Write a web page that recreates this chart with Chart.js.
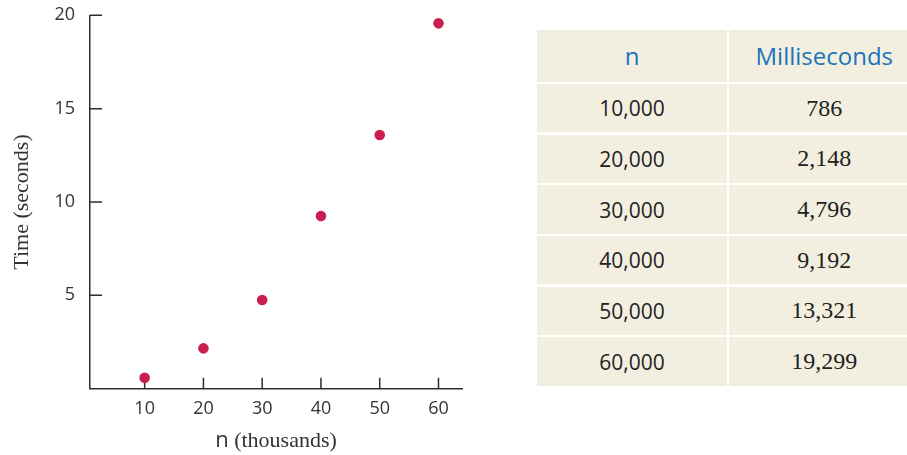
<!DOCTYPE html>
<html>
<head>
<meta charset="utf-8">
<script src="https://cdn.jsdelivr.net/npm/chart.js@4/dist/chart.umd.min.js"></script>
<style>
  html, body { margin: 0; padding: 0; background: #fff; }
  body { width: 907px; height: 455px; position: relative; overflow: hidden; }
  #plot { position: absolute; left: 0; top: 0; width: 470px; height: 455px; }
  #table {
    position: absolute; left: 537px; top: 30px; width: 382px;
    display: grid; grid-template-columns: 190px 190px;
    grid-template-rows: 51.7px repeat(6, 48.4px);
    gap: 2.3px;
  }
  #table div {
    background: #f2efe0;
    display: flex; align-items: center; justify-content: center;
    color: #222;
  }
  #table .head { font-family: "Open Sans", sans-serif; font-size: 24px; color: #1b74ba; }
  #table .ncell { font-family: "Open Sans", sans-serif; font-size: 21px; }
  #table .mscell { font-family: "Liberation Serif", serif; font-size: 24px; }
</style>
</head>
<body>
<div id="plot"><canvas id="chart"></canvas></div>
<div id="table"></div>
<script>
// Data
const nThousands = [10, 20, 30, 40, 50, 60];
const timeSeconds = [0.58, 2.16, 4.75, 9.25, 13.59, 19.57];
const xTicks = [10, 20, 30, 40, 50, 60];
const yTicks = [5, 10, 15, 20];

// Table contents
const tableHeaders = ['n', 'Milliseconds'];
const tableN = ['10,000', '20,000', '30,000', '40,000', '50,000', '60,000'];
const tableMs = ['786', '2,148', '4,796', '9,192', '13,321', '19,299'];

const axisColor = '#2e2e2e';
const pointColor = '#c91f4f';

// Build the table
const tableElem = document.getElementById('table');
tableHeaders.forEach(h => {
    const d = document.createElement('div');
    d.className = 'head';
    d.textContent = h;
    tableElem.appendChild(d);
});
tableN.forEach((n, i) => {
    const a = document.createElement('div');
    a.className = 'ncell';
    a.textContent = n;
    const b = document.createElement('div');
    b.className = 'mscell';
    b.textContent = tableMs[i];
    tableElem.appendChild(a);
    tableElem.appendChild(b);
});

// Tick marks point inward, drawn from the scales
const inwardTicks = {
    id: 'inwardTicks',
    beforeDatasetsDraw(chart) {
        const ctx = chart.ctx;
        const x = chart.scales.x;
        const y = chart.scales.y;
        ctx.save();
        ctx.strokeStyle = axisColor;
        ctx.lineWidth = 1.5;
        ctx.beginPath();
        xTicks.forEach(v => {
            const px = x.getPixelForValue(v);
            ctx.moveTo(px, y.bottom);
            ctx.lineTo(px, y.bottom - 11);
        });
        yTicks.forEach(v => {
            const py = y.getPixelForValue(v);
            ctx.moveTo(x.left, py);
            ctx.lineTo(x.left + 12, py);
        });
        ctx.stroke();
        ctx.restore();
    }
};

// x title: "n" in sans, rest in serif
const xTitle = {
    id: 'xTitle',
    afterDraw(chart) {
        const ctx = chart.ctx;
        const x = chart.scales.x;
        const sans = '22px "Open Sans", sans-serif';
        const serif = '22px "Liberation Serif", serif';
        ctx.save();
        ctx.fillStyle = '#333';
        ctx.textBaseline = 'alphabetic';
        ctx.font = sans;
        const w1 = ctx.measureText('n').width;
        ctx.font = serif;
        const w2 = ctx.measureText(' (thousands)').width;
        const cx = (x.left + x.right) / 2;
        const start = cx - (w1 + w2) / 2;
        const base = x.top + 58;
        ctx.font = sans;
        ctx.fillText('n', start, base);
        ctx.font = serif;
        ctx.fillText(' (thousands)', start + w1, base);
        ctx.restore();
    }
};

const chart = new Chart(document.getElementById('chart').getContext('2d'), {
    type: 'scatter',
    data: {
        datasets: [{
            data: nThousands.map((n, i) => ({ x: n, y: timeSeconds[i] })),
            backgroundColor: pointColor,
            borderColor: pointColor,
            pointRadius: 5.3,
            pointHoverRadius: 5.3,
            borderWidth: 0
        }]
    },
    options: {
        responsive: true,
        maintainAspectRatio: false,
        animation: false,
        layout: { padding: { top: 15.3, right: 8, bottom: 0, left: 0 } },
        plugins: {
            legend: { display: false },
            tooltip: { enabled: false }
        },
        scales: {
            x: {
                type: 'linear',
                min: 0.7,
                max: 64,
                afterBuildTicks: s => { s.ticks = xTicks.map(v => ({ value: v })); },
                afterFit: s => { s.height = 66.3; s.paddingLeft = 0; s.paddingRight = 0; },
                grid: { display: false, drawTicks: false },
                border: { display: true, color: axisColor, width: 1.5 },
                ticks: {
                    padding: 9,
                    color: '#333',
                    font: { family: '"Open Sans", sans-serif', size: 18 }
                }
            },
            y: {
                min: 0,
                max: 20,
                afterBuildTicks: s => { s.ticks = yTicks.map(v => ({ value: v })); },
                afterFit: s => { s.width = 90; s.paddingTop = 0; s.paddingBottom = 0; },
                grid: { display: false, drawTicks: false },
                border: { display: true, color: axisColor, width: 1.5 },
                ticks: {
                    padding: 15,
                    color: '#333',
                    font: { family: '"Open Sans", sans-serif', size: 18 }
                },
                title: {
                    display: true,
                    text: 'Time (seconds)',
                    color: '#333',
                    padding: { top: 9, bottom: 0 },
                    font: { family: '"Liberation Serif", serif', size: 22, lineHeight: 1.2 }
                }
            }
        }
    },
    plugins: [inwardTicks, xTitle]
});
</script>
</body>
</html>
